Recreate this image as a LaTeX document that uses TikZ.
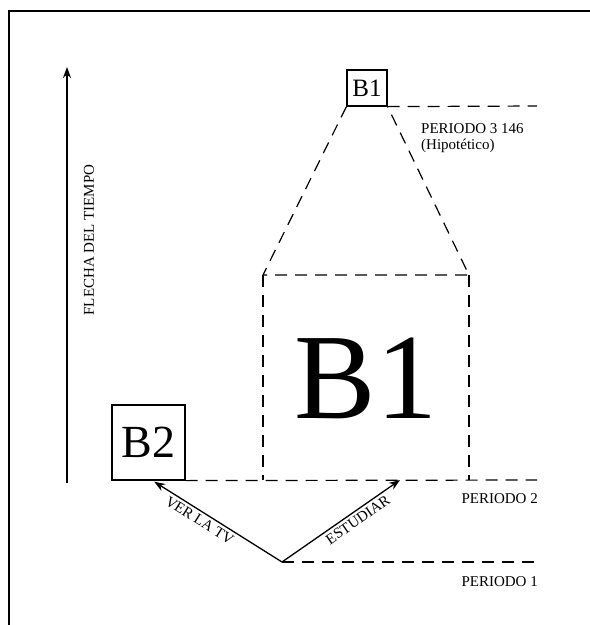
\documentclass[tikz,border=0pt]{standalone}
\usepackage{fontspec}
\setmainfont{Liberation Serif}
\usetikzlibrary{positioning, arrows.meta}

\begin{document}
\begin{tikzpicture}[x=1pt, y=-1pt,
    per/.style={dash pattern=on 12pt off 8pt, line width=1.2pt},
    lbl/.style={font=\fontsize{15}{16}\selectfont, inner sep=1pt},
    bloque/.style={draw, line width=1.2pt, inner sep=0pt},
    flecha/.style={-{Stealth[length=11pt, width=8pt]}, line width=1.3pt}]
  \useasboundingbox (0,0) rectangle (590,625);
  \draw[line width=1.8pt] (9,625) -- (9,11) -- (590,11);

  % flecha del tiempo
  \coordinate (t0) at (67,483);
  \coordinate (t1) at (67,67);
  \draw[flecha] (t0) -- (t1);
  \node[lbl, rotate=90] (tiempo) at (89,240) {FLECHA DEL TIEMPO};

  % bloques
  \node[bloque, minimum width=40pt, minimum height=36pt,
        font=\fontsize{25}{25}\selectfont] (b1top) at (367,88) {B1};
  \node[bloque, minimum width=73pt, minimum height=75pt,
        font=\fontsize{46}{46}\selectfont] (b2) at (148.5,442.5) {B2};
  \node[font=\fontsize{122}{122}\selectfont, inner sep=0pt] (b1) at (366,378) {B1};

  % periodos
  \coordinate (bl) at (263,275);
  \coordinate (br) at (469,275);
  \coordinate (sl) at (263,480);
  \coordinate (sr) at (469,480);
  \coordinate (e3) at (537,106);
  \coordinate (e2) at (537,480);
  \coordinate (e1) at (537,562);
  \coordinate (ini) at (282,562);
  \coordinate (meta) at (400,480);
  \draw[per] (b1top.south east) -- (e3);
  \draw[per] (b1top.south west) -- (bl) -- (br) -- (b1top.south east);
  \draw[per] (bl) -- (sl);
  \draw[per] (br) -- (sr);
  \draw[per] (b2.south east) -- (e2);
  \draw[per] (ini) -- (e1);

  \node[lbl, align=left, anchor=north west] (p3) at (420,122)
       {PERIODO 3 146\\(Hipotético)};
  \node[lbl, anchor=east] (p2) at (539,499) {PERIODO 2};
  \node[lbl, anchor=east] (p1) at (539,582) {PERIODO 1};

  % opciones
  \draw[flecha, shorten >=2pt] (ini) -- ([xshift=4pt]b2.south)
       node[lbl, pos=0.6, sloped, below, inner sep=3pt] {VER LA TV};
  \draw[flecha] (ini) -- (meta)
       node[lbl, pos=0.6, sloped, below, inner sep=3pt] {ESTUDIAR};
\end{tikzpicture}
\end{document}
